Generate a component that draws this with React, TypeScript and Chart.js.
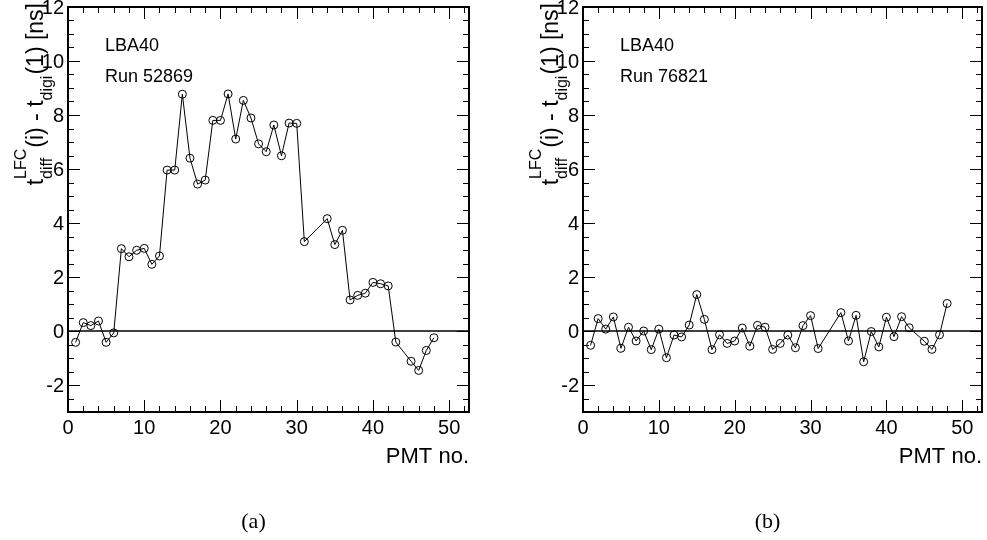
import React, { useEffect, useRef } from "react";
import { Chart, registerables } from "chart.js";

Chart.register(...registerables);

// ---------- data ----------
const pmtNumbers = [
  1, 2, 3, 4, 5, 6, 7, 8, 9, 10, 11, 12, 13, 14, 15, 16, 17, 18, 19, 20, 21, 22, 23, 24, 25, 26, 27, 28, 29, 30, 31,
  34, 35, 36, 37, 38, 39, 40, 41, 42, 43, 45, 46, 47, 48,
];
const deltaRun52869 = [
  -0.42, 0.31, 0.2, 0.37, -0.42, -0.07, 3.05, 2.75, 2.99, 3.06, 2.47, 2.78, 5.96, 5.96, 8.77, 6.4, 5.44, 5.59, 7.8, 7.8,
  8.78, 7.11, 8.54, 7.89, 6.93, 6.64, 7.63, 6.49, 7.7, 7.69, 3.31, 4.16, 3.2, 3.73, 1.15, 1.32, 1.4, 1.8, 1.75, 1.67,
  -0.41, -1.12, -1.46, -0.72, -0.25,
];
const deltaRun76821 = [
  -0.53, 0.46, 0.07, 0.52, -0.64, 0.14, -0.37, 0.0, -0.69, 0.07, -0.99, -0.15, -0.22, 0.22, 1.35, 0.43, -0.69, -0.14,
  -0.46, -0.37, 0.11, -0.56, 0.21, 0.14, -0.68, -0.46, -0.15, -0.62, 0.2, 0.57, -0.65, 0.68, -0.37, 0.58, -1.14, -0.02,
  -0.59, 0.51, -0.21, 0.53, 0.12, -0.38, -0.68, -0.14, 1.02,
];
const xTickLabels = [0, 10, 20, 30, 40, 50];
const yTickLabels = [-2, 0, 2, 4, 6, 8, 10, 12];
const xRange = [0, 52.6];
const yRange = [-3, 12];
const xMinorStep = 2;
const yMinorStep = 0.5;

const SANS = '"Liberation Sans", Arial, Helvetica, sans-serif';
const SERIF = '"Liberation Serif", "Times New Roman", serif';

type PanelProps = {
  values: number[];
  run: string;
  caption: string;
  padLeft: number;
  padRight: number;
  width: number;
};

function drawYTitle(ctx: CanvasRenderingContext2D, xBase: number, yEnd: number) {
  const main = `23px ${SANS}`;
  const small = `16px ${SANS}`;
  ctx.save();
  ctx.fillStyle = "#000";
  ctx.textBaseline = "alphabetic";
  ctx.textAlign = "left";
  ctx.font = main;
  const w1 = ctx.measureText("t").width;
  const w3 = ctx.measureText("(i) - t").width;
  const w5 = ctx.measureText("(1) [ns]").width;
  ctx.font = small;
  const wSup = ctx.measureText("LFC").width;
  const wSub = ctx.measureText("diff").width;
  const wSub2 = ctx.measureText("digi").width;
  const w2 = Math.max(wSup, wSub) + 1;
  const total = w1 + w2 + w3 + wSub2 + 1 + w5;
  ctx.translate(xBase, yEnd);
  ctx.rotate(-Math.PI / 2);
  let x = -total;
  ctx.font = main;
  ctx.fillText("t", x, 0);
  x += w1;
  ctx.font = small;
  ctx.fillText("LFC", x, -17);
  ctx.fillText("diff", x, 9);
  x += w2;
  ctx.font = main;
  ctx.fillText("(i) - t", x, 0);
  x += w3;
  ctx.font = small;
  ctx.fillText("digi", x, 9);
  x += wSub2 + 1;
  ctx.font = main;
  ctx.fillText("(1) [ns]", x, 0);
  ctx.restore();
}

function Panel({ values, run, caption, padLeft, padRight, width }: PanelProps) {
  const ref = useRef<HTMLCanvasElement | null>(null);
  useEffect(() => {
    if (!ref.current) return;
    const rootPlugin = {
      id: "rootStyle",
      beforeDatasetsDraw(chart: any) {
        const { ctx, chartArea, scales } = chart;
        const y0 = scales.y.getPixelForValue(0);
        ctx.save();
        ctx.strokeStyle = "#000";
        ctx.lineWidth = 1.5;
        ctx.beginPath();
        ctx.moveTo(chartArea.left, y0);
        ctx.lineTo(chartArea.right, y0);
        ctx.stroke();
        ctx.restore();
      },
      afterDraw(chart: any) {
        const { ctx, chartArea, scales } = chart;
        const { left, right, top, bottom } = chartArea;
        const xs = scales.x;
        const ys = scales.y;
        ctx.save();
        ctx.strokeStyle = "#000";
        // ticks
        ctx.lineWidth = 1;
        ctx.beginPath();
        for (let v = xRange[0]; v <= xRange[1] + 1e-6; v += xMinorStep) {
          const px = Math.round(xs.getPixelForValue(v)) + 0.5;
          const len = Math.abs(v % 10) < 1e-6 ? 12 : 6;
          ctx.moveTo(px, bottom);
          ctx.lineTo(px, bottom - len);
          ctx.moveTo(px, top);
          ctx.lineTo(px, top + len);
        }
        for (let v = yRange[0]; v <= yRange[1] + 1e-6; v += yMinorStep) {
          const py = Math.round(ys.getPixelForValue(v)) + 0.5;
          const len = Math.abs(v % 2) < 1e-6 ? 12 : 6;
          ctx.moveTo(left, py);
          ctx.lineTo(left + len, py);
          ctx.moveTo(right, py);
          ctx.lineTo(right - len, py);
        }
        ctx.stroke();
        // frame
        ctx.lineWidth = 2;
        ctx.strokeRect(left, top, right - left, bottom - top);
        // tick labels
        ctx.fillStyle = "#000";
        ctx.font = `20px ${SANS}`;
        ctx.textAlign = "center";
        ctx.textBaseline = "alphabetic";
        xTickLabels.forEach((v) => ctx.fillText(String(v), xs.getPixelForValue(v), bottom + 22));
        ctx.textAlign = "right";
        yTickLabels.forEach((v) => ctx.fillText(String(v), left - 4, ys.getPixelForValue(v) + 7));
        // axis title
        ctx.font = `22px ${SANS}`;
        ctx.textAlign = "right";
        ctx.fillText("PMT no.", right, bottom + 51);
        // annotations
        ctx.font = `18px ${SANS}`;
        ctx.textAlign = "left";
        ctx.fillText("LBA40", left + 37, top + 44);
        ctx.fillText(run, left + 37, top + 75);
        // caption
        ctx.font = `22px ${SERIF}`;
        ctx.textAlign = "center";
        ctx.fillText(caption, (left + right) / 2 - 15, 528);
        ctx.restore();
        drawYTitle(ctx, left - 25, top - 4);
      },
    };
    const chart = new Chart(ref.current, {
      type: "line",
      data: {
        datasets: [
          {
            data: pmtNumbers.map((p, i) => ({ x: p, y: values[i] })),
            borderColor: "#000",
            borderWidth: 1,
            pointRadius: 4,
            pointBorderWidth: 1,
            pointBorderColor: "#000",
            pointBackgroundColor: "rgba(0,0,0,0)",
            tension: 0,
            fill: false,
          },
        ],
      },
      options: {
        responsive: false,
        animation: false,
        devicePixelRatio: 1,
        layout: { padding: { left: padLeft, right: padRight, top: 7, bottom: 128 } },
        plugins: { legend: { display: false }, tooltip: { enabled: false }, title: { display: false } },
        scales: {
          x: { type: "linear", min: xRange[0], max: xRange[1], display: false },
          y: { type: "linear", min: yRange[0], max: yRange[1], display: false },
        },
      },
      plugins: [rootPlugin],
    });
    return () => chart.destroy();
  }, []);
  return <canvas ref={ref} width={width} height={540} style={{ display: "block", width, height: 540 }} />;
}

export default function App() {
  return (
    <div style={{ position: "absolute", left: 0, top: 0, width: 987, height: 540, display: "flex", background: "#fff" }}>
      <Panel values={deltaRun52869} run="Run 52869" caption="(a)" padLeft={68} padRight={494 - 469} width={494} />
      <Panel values={deltaRun76821} run="Run 76821" caption="(b)" padLeft={583 - 494} padRight={493 - (984 - 494)} width={493} />
    </div>
  );
}
